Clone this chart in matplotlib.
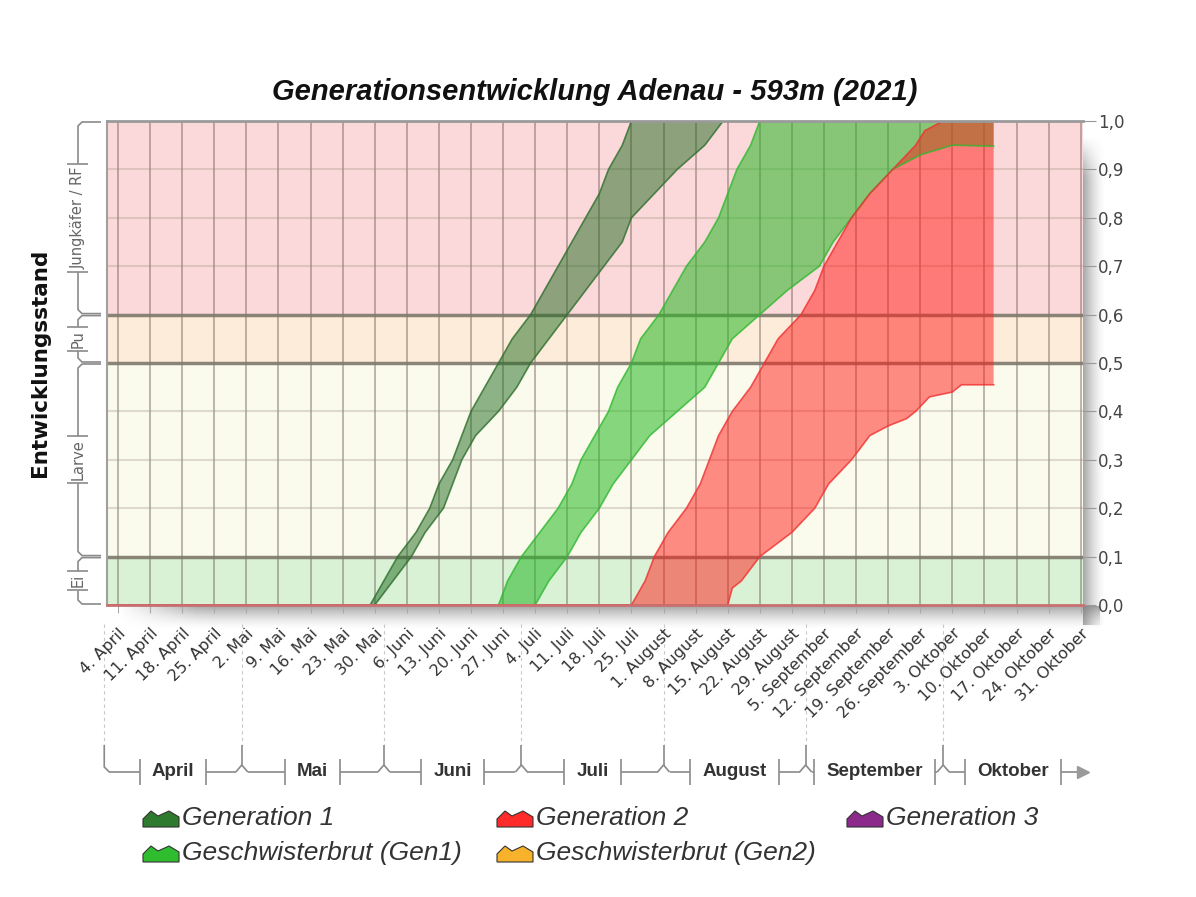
import numpy as np
import pandas as pd
import matplotlib
matplotlib.use('Agg')
import matplotlib.pyplot as plt
import matplotlib.dates as mdates
from matplotlib.patches import Polygon
from matplotlib.transforms import ScaledTranslation

JAHR = '2021-'

# Entwicklungsstufen (von unten nach oben)
stufen = ['Ei', 'Larve', 'Pu', 'Jungkäfer / RF']
stufen_grenzen = [0.0, 0.1, 0.5, 0.6, 1.0]
stufen_farben = ['#d9f1d5', '#fbfbed', '#fdecd9', '#fbd9da']

monate = ['April', 'Mai', 'Juni', 'Juli', 'August', 'September', 'Oktober']
monats_beginn = ['04-01', '05-01', '06-01', '07-01', '08-01', '09-01', '10-01']
monatsnamen = {4: 'April', 5: 'Mai', 6: 'Juni', 7: 'Juli', 8: 'August',
               9: 'September', 10: 'Oktober'}

y_ticks = [0.0, 0.1, 0.2, 0.3, 0.4, 0.5, 0.6, 0.7, 0.8, 0.9, 1.0]

datenbeginn = '04-01'
datenende = '10-12'

stand = [0.0, 0.05, 0.1, 0.15, 0.2, 0.25, 0.3, 0.35, 0.4, 0.45, 0.5,
         0.55, 0.6, 0.65, 0.7, 0.75, 0.8, 0.85, 0.9, 0.95, 1.0]

# Generation 1
gen1_frueh_datum = ['05-29', '06-01', '06-04', '06-08', '06-11', '06-13', '06-16',
                    '06-18', '06-20', '06-23', '06-26', '06-29', '07-03', '07-06',
                    '07-09', '07-12', '07-15', '07-18', '07-20', '07-23', '07-25',
                    datenende]
gen1_frueh_wert = stand + [1.0]
gen1_spaet_datum = ['05-30', '06-03', '06-07', '06-10', '06-14', '06-16', '06-18',
                    '06-21', '06-26', '06-30', '07-03', '07-07', '07-11', '07-15',
                    '07-19', '07-23', '07-25', '07-30', '08-04', '08-10', '08-14',
                    datenende]
gen1_spaet_wert = stand + [1.0]

# Geschwisterbrut (Gen1)
gb1_frueh_datum = ['06-26', '06-28', '07-01', '07-05', '07-09', '07-12', '07-14',
                   '07-17', '07-20', '07-22', '07-25', '07-27', '07-31', '08-03',
                   '08-06', '08-10', '08-13', '08-15', '08-17', '08-20', '08-22',
                   datenende]
gb1_frueh_wert = stand + [1.0]
gb1_spaet_datum = ['07-04', '07-07', '07-11', '07-14', '07-18', '07-21', '07-25',
                   '07-29', '08-04', '08-10', '08-13', '08-16', '08-22', '08-28',
                   '09-04', '09-07', '09-11', '09-15', '09-20', '09-26', '10-03',
                   datenende]
gb1_spaet_wert = stand[:19] + [0.93, 0.95, 0.948]

# Generation 2
gen2_frueh_datum = ['07-25', '07-28', '07-30', '08-02', '08-06', '08-09', '08-11',
                    '08-13', '08-16', '08-20', '08-23', '08-26', '08-31', '09-03',
                    '09-05', '09-08', '09-11', '09-15', '09-20', '09-23', '09-25',
                    '09-27', '10-01', datenende]
gen2_frueh_wert = stand[:19] + [0.93, 0.95, 0.98, 1.0, 1.0]
gen2_spaet_datum = ['08-15', '08-16', '08-18', '08-22', '08-29', '09-03', '09-06',
                    '09-11', '09-15', '09-19', '09-23', '09-25', '09-28', '10-03',
                    '10-05', datenende]
gen2_spaet_wert = [0.0, 0.035, 0.05, 0.1, 0.15, 0.2, 0.25, 0.3, 0.35, 0.37,
                   0.385, 0.4, 0.43, 0.44, 0.455, 0.455]

legende = ['Generation 1', 'Generation 2', 'Generation 3',
           'Geschwisterbrut (Gen1)', 'Geschwisterbrut (Gen2)']
legende_farben = ['#2e7a2e', '#ff2a2a', '#8b2a8b', '#2fbd2f', '#f7b12a']


def tag(s):
    return mdates.date2num(pd.Timestamp(JAHR + s))


def kurve(datum, werte):
    x = [tag(datenbeginn)] + [tag(s) for s in datum]
    return np.array(x), np.array([0.0] + list(werte))


fig = plt.figure(figsize=(11.96, 8.97), dpi=100)
fig.patch.set_facecolor('white')

# Hilfsachse in Pixeln fuer Schatten, Klammern und Legende
deko = fig.add_axes([0, 0, 1, 1], zorder=0)
deko.set_xlim(0, 1196)
deko.set_ylim(897, 0)
deko.axis('off')

ax = fig.add_axes([107 / 1196, 292 / 897, 976 / 1196, 484 / 897], zorder=1)
ax.set_xlim(tag('04-01') + 0.6, tag('10-31') + 0.5)
ax.set_ylim(0, 1)

# Hintergrund nach Entwicklungsstufen
for lo, hi, farbe in zip(stufen_grenzen[:-1], stufen_grenzen[1:], stufen_farben):
    ax.axhspan(lo, hi, color=farbe, lw=0, zorder=0)

wochen = pd.date_range(JAHR + '04-04', JAHR + '10-31', freq='7D')
ax.set_xticks(mdates.date2num(wochen))
ax.set_xticklabels(['%d. %s' % (d.day, monatsnamen[d.month]) for d in wochen],
                   rotation=45, ha='right', va='top', rotation_mode='anchor',
                   fontsize=11.5, color='#333333')
for lbl in ax.get_xticklabels():
    lbl.set_transform(lbl.get_transform() + ScaledTranslation(6 / 100, 0, fig.dpi_scale_trans))
ax.tick_params(axis='x', length=6, color='#aaaaaa', pad=9)

for w in wochen:
    ax.axvline(mdates.date2num(w), color='#5a4a40', alpha=0.42, lw=1.3, zorder=1)
for v in y_ticks:
    if v in stufen_grenzen:
        continue
    ax.axhline(v, color='#a08a80', alpha=0.3, lw=1.5, zorder=1)
for v in stufen_grenzen[1:-1]:
    ax.axhline(v, color='#7f786c', alpha=0.9, lw=2.5, zorder=1)

ax.yaxis.tick_right()
ax.set_yticks(y_ticks)
ax.set_yticklabels([('%.1f' % v).replace('.', ',') for v in y_ticks],
                   fontsize=12, color='#444444')
ax.tick_params(axis='y', length=9, color='#999999', pad=2)

ax.spines['right'].set_visible(False)
ax.spines['top'].set_color('#9a9a9a')
ax.spines['top'].set_linewidth(2)
ax.spines['left'].set_color('#a0a0a0')
ax.spines['left'].set_linewidth(1.5)
ax.spines['bottom'].set_color('#c87070')
ax.spines['bottom'].set_linewidth(2)
for sp in ax.spines.values():
    sp.set_zorder(10)


def band(frueh, spaet, farbe, rand, alpha):
    xf, yf = kurve(*frueh)
    xs, ys = kurve(*spaet)
    ax.fill(np.concatenate([xf, xs[::-1]]), np.concatenate([yf, ys[::-1]]),
            color=farbe, alpha=alpha, lw=0, zorder=2)
    ax.plot(xf, yf, color=rand, lw=1.2, alpha=0.8, zorder=3, solid_joinstyle='round')
    ax.plot(xs, ys, color=rand, lw=1.2, alpha=0.8, zorder=3, solid_joinstyle='round')


band((gen1_frueh_datum, gen1_frueh_wert), (gen1_spaet_datum, gen1_spaet_wert),
     '#1f6b1f', '#2d6e2d', 0.5)
band((gb1_frueh_datum, gb1_frueh_wert), (gb1_spaet_datum, gb1_spaet_wert),
     '#26b824', '#2fb82f', 0.55)
band((gen2_frueh_datum, gen2_frueh_wert), (gen2_spaet_datum, gen2_spaet_wert),
     '#ff1c18', '#f03030', 0.5)

ax.set_title('Generationsentwicklung Adenau - 593m (2021)', fontsize=21,
             fontweight='bold', fontstyle='italic', family='Liberation Sans',
             color='#111111', pad=15)
ax.set_ylabel('Entwicklungsstand', fontsize=15.5, fontweight='bold', color='#111111')
ax.yaxis.set_label_position('left')
ax.yaxis.set_label_coords(-0.058, 0.5)

# 3D-Schatten rechts und unten
grau = np.array([0.42, 0.42, 0.42])
n = 64
verlauf = (1 - np.linspace(0, 1, n)) ** 1.6
einblenden = np.clip(np.linspace(0, 12, n), 0, 1)
rgba = np.zeros((n, n, 4))
rgba[..., :3] = grau
rgba[..., 3] = 0.6 * einblenden[:, None] * verlauf[None, :]
deko.imshow(rgba, extent=(1083, 1106, 625, 133), aspect='auto', interpolation='bilinear')
rgba2 = np.zeros((n, n, 4))
rgba2[..., :3] = grau
rgba2[..., 3] = 0.6 * verlauf[:, None] * einblenden[None, :]
deko.imshow(rgba2, extent=(112, 1100, 630, 606), aspect='auto', interpolation='bilinear')
deko.set_xlim(0, 1196)
deko.set_ylim(897, 0)

renderer = fig.canvas.get_renderer()


def px(x, y):
    dx, dy = ax.transData.transform((x, y))
    return dx, 897 - dy


# Klammern der Entwicklungsstufen links
kl = dict(color='#8a8a8a', lw=1.2, solid_capstyle='butt')
xl, xr = 78, 101
for lo, hi, name in zip(stufen_grenzen[:-1], stufen_grenzen[1:], stufen):
    yt = px(ax.get_xlim()[0], hi)[1]
    yb = px(ax.get_xlim()[0], lo)[1]
    ym = (yt + yb) / 2
    t = deko.text(xl, ym, name, rotation=90, ha='center', va='center',
                  fontsize=10.5, color='#666666')
    h = t.get_window_extent(renderer).height / 2 + 3
    deko.plot([xr, xl + 4, xl, xl], [yt + 1, yt + 1, yt + 5, ym - h], **kl)
    deko.plot([xl, xl, xl + 4, xr], [ym + h, yb - 5, yb - 1, yb - 1], **kl)
    deko.plot([xl - 11, xl + 10], [ym - h, ym - h], **kl)
    deko.plot([xl - 11, xl + 10], [ym + h, ym + h], **kl)

# Monatsachse unten
y_m = 772
grenzen = [px(tag(s), 0)[0] for s in monats_beginn] + [px(ax.get_xlim()[1], 0)[0]]
for i, name in enumerate(monate):
    x0, x1 = grenzen[i], grenzen[i + 1]
    xm = (x0 + x1) / 2
    t = deko.text(xm, y_m, name, ha='center', va='center', fontsize=13.5,
                  fontweight='bold', family='Liberation Sans', color='#333333')
    w = t.get_window_extent(renderer).width / 2 + 12
    deko.plot([x0, x0], [624, 745], color='#c8c8c8', lw=0.8, ls=(0, (3, 3)))
    if i == 0:
        deko.plot([x0, x0, x0 + 5, xm - w], [745, y_m - 5, y_m, y_m], **kl)
    else:
        deko.plot([x0, x0], [745, y_m - 7], **kl)
        deko.plot([x0 - 6, x0, x0 + 6], [y_m, y_m - 7, y_m], **kl)
        deko.plot([x0 + 6, xm - w], [y_m, y_m], **kl)
    deko.plot([xm - w, xm - w], [y_m - 13, y_m + 13], **kl)
    deko.plot([xm + w, xm + w], [y_m - 13, y_m + 13], **kl)
    deko.plot([xm + w, x1 - 6], [y_m, y_m], **kl)
    if i == len(monate) - 1:
        deko.plot([x1], [y_m], marker='>', ms=8, color='#9a9a9a', mec='#9a9a9a')

# Legende
spalten = [143, 497, 847]
zeilen = [818, 853]
for i, (name, farbe) in enumerate(zip(legende, legende_farben)):
    x = spalten[i % 3]
    y = zeilen[i // 3]
    form = [(0, 9), (0, 1), (8, -7), (15, -2), (26, -7), (36, -1), (36, 9)]
    deko.add_patch(Polygon([(x + a, y + b) for a, b in form], closed=True,
                           facecolor=farbe, edgecolor='#333333', lw=0.8))
    deko.text(x + 39, y, name, ha='left', va='center', fontsize=19,
              fontstyle='italic', family='Liberation Sans', color='#333333')

fig.savefig('out.png', dpi=100, facecolor='white')
